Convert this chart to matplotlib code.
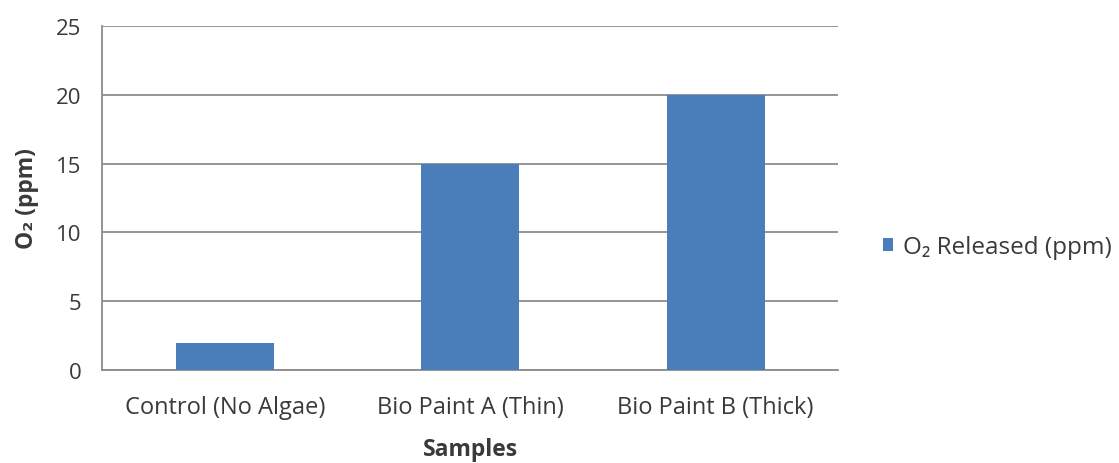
import matplotlib
matplotlib.use('Agg')
import matplotlib.pyplot as plt
import numpy as np

plt.rcParams['font.family'] = ['Open Sans', 'DejaVu Sans']

# data
categories = ['Control (No Algae)', 'Bio Paint A (Thin)', 'Bio Paint B (Thick)']
o2_released = [2, 15, 20]
series_name = 'O\u2082 Released (ppm)'
yticks = [0, 5, 10, 15, 20, 25]

text_col = '#3a3a3a'
grid_col = '#8c8c8c'
bar_col = '#4a7ebb'

fig = plt.figure(figsize=(11.19, 4.64), dpi=100)
ax = fig.add_axes([0.0912, 0.2, 0.658, 0.742])

x = np.arange(len(categories))
ax.bar(x, o2_released, width=0.4, color=bar_col, label=series_name, zorder=3)

ax.set_xlim(-0.5, len(categories) - 0.5)
ax.set_ylim(0, 25)
ax.set_yticks(yticks)
ax.set_xticks(x)
ax.set_xticklabels(categories, fontsize=17)
ax.yaxis.grid(True, color=grid_col, linewidth=1.3, zorder=0)

for s in ['top', 'right']:
    ax.spines[s].set_visible(False)
for s in ['left', 'bottom']:
    ax.spines[s].set_color(grid_col)
    ax.spines[s].set_linewidth(1.3)

ax.tick_params(axis='both', length=0, colors=text_col)
ax.tick_params(axis='y', pad=15, labelsize=16)
ax.tick_params(axis='x', pad=18)

ax.set_xlabel('Samples', fontsize=16.5, fontweight='bold', color=text_col, labelpad=13)
ax.set_ylabel('O\u2082 (ppm)', fontsize=16.5, fontweight='bold', color=text_col, labelpad=12)

leg = ax.legend(loc='center left', bbox_to_anchor=(883 / 1119, 0.4655),
                bbox_transform=fig.transFigure, frameon=False,
                borderpad=0, borderaxespad=0,
                fontsize=17.5, handlelength=0.42, handleheight=0.42, handletextpad=0.42)
for t in leg.get_texts():
    t.set_color(text_col)

fig.savefig('out.png', dpi=100)
